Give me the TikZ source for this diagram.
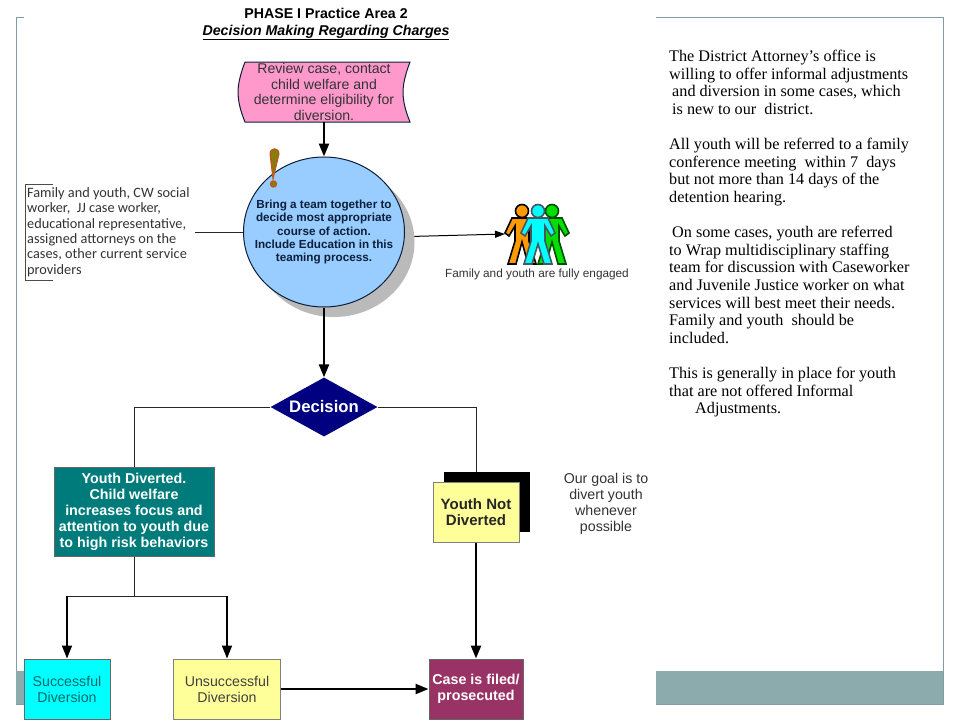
\documentclass[tikz,border=0pt]{standalone}
\usepackage{fontspec}
\setmainfont{Liberation Sans}
\newfontfamily\notesfont{Liberation Serif}
\newfontfamily\listfont{Carlito}
\usetikzlibrary{arrows.meta,shapes.geometric}

\definecolor{framegray}{HTML}{7F9DA3}
\definecolor{bandgray}{HTML}{8CABAD}
\definecolor{reviewpink}{HTML}{FF99CC}
\definecolor{teamblue}{HTML}{99CCFF}
\definecolor{navyfill}{HTML}{000080}
\definecolor{tealfill}{HTML}{007B7B}
\definecolor{paleyellow}{HTML}{FFFF99}
\definecolor{casepurple}{HTML}{993366}
\definecolor{darktext}{HTML}{0B1F3A}
\definecolor{brightcyan}{HTML}{00FFFF}
\definecolor{brightgreen}{HTML}{00E000}
\definecolor{brightorange}{HTML}{FF9A00}
\definecolor{markolive}{HTML}{8A7A10}
\definecolor{markedge}{HTML}{C8501A}

\tikzset{
    flowbox/.style={draw=#1, line width=1pt, inner sep=0pt, align=center},
    flowline/.style={line width=1pt, draw=black!85},
    flowarrow/.style={line width=2.4pt, -{Stealth[length=13pt, width=10pt, inset=0pt]}},
    thinarrow/.style={line width=1pt, -{Stealth[length=10pt, width=7pt, inset=0pt]}},
    boldtext/.style={font=\fontsize{14.3}{16}\selectfont\bfseries},
    plaintext/.style={font=\fontsize{14.2}{16}\selectfont},
    notes/.style={anchor=north west, inner sep=0pt, align=left,
        font=\fontsize{16.2}{17.6}\selectfont\notesfont}
}

\newcommand{\person}[4]{
    \draw[fill=#2, draw=#3, line width=1.6pt, line join=miter]
        (#1-3,218) -- (#1-10,218) -- (#1-17,233) -- (#1-13,236) -- (#1-7,226)
        -- (#1-7,241) -- (#1-14,264) -- (#1-6,264) -- (#1,#4) -- (#1+6,264)
        -- (#1+14,264) -- (#1+7,241) -- (#1+7,226) -- (#1+13,236) -- (#1+17,233)
        -- (#1+10,218) -- (#1+3,218) -- cycle;
    \draw[fill=#2, draw=#3, line width=1.6pt] (#1,211) circle (6.5);
}

\begin{document}
\begin{tikzpicture}[x=1pt, y=-1pt]
    \useasboundingbox (0,0) rectangle (960,720);

    % slide frame and band
    \draw[framegray, line width=1pt] (16,17) rectangle (943,704);
    \fill[bandgray] (16,671) rectangle (943,704);
    \fill[white] (24,0) rectangle (656,720);

    % title
    \node (title) at (326,24) [align=center, inner sep=0pt, font=\fontsize{14.2}{17}\selectfont\bfseries] {PHASE I Practice Area 2\\
        \textit{\underline{Decision Making Regarding Charges}}};

    % review case
    \draw[fill=reviewpink, draw=darktext, line width=1pt] (245,62) -- (410,62)
        .. controls (405,75) and (403,85) .. (403,92)
        .. controls (403,100) and (405,110) .. (410,122)
        -- (245,122)
        .. controls (240,110) and (238,100) .. (238,92)
        .. controls (238,85) and (240,75) .. (245,62) -- cycle;
    \node (review) at (324,92) [minimum width=172pt, minimum height=60pt, inner sep=0pt, align=center,
        text=black!80, font=\fontsize{14.1}{15.8}\selectfont] {Review case, contact\\child welfare and\\determine eligibility for\\diversion.};

    % team circle
    \node (bringshadow) at (334,242) [ellipse, fill=black!27, inner sep=0pt,
        minimum width=161pt, minimum height=150pt] {};
    \node (bring) at (324,232) [ellipse, fill=teamblue, draw=darktext, line width=1pt, inner sep=-14pt,
        minimum width=161pt, minimum height=150pt, align=center, text=darktext,
        font=\fontsize{11.7}{13.3}\selectfont\bfseries]
        {Bring a team together to\\decide most appropriate\\course of action.\\Include Education in this\\teaming process.};
    \draw[fill=markolive, draw=markedge, line width=1pt]
        (270,154) .. controls (270,147) and (279,147) .. (279,154) -- (273,179) -- cycle;
    \fill[markolive, draw=markedge, line width=1pt] (273.5,184) circle (3.2);
    \draw[flowarrow] (review) -- (bring);

    % people on the list
    \draw[black!70, line width=1pt] (53,184) -- (25,184) -- (25,280) -- (53,280);
    \node (teamlist) at (27,232) [anchor=west, align=left, inner sep=0pt, text=black!80,
        font=\fontsize{14.3}{15.3}\selectfont\listfont] {Family and youth, CW social\\worker,\ \ JJ case worker,\\educational representative,\\assigned attorneys on the\\cases, other current service\\providers};
    \coordinate (listend) at (195,232);
    \draw[flowline] (listend) -- (bring);

    % family figures
    \person{552}{brightgreen}{black!70!green}{242}
    \person{522}{brightorange}{black}{242}
    \person{538}{brightcyan}{black!70!cyan}{244}
    \coordinate (people) at (505,234);
    \draw[thinarrow] (bringshadow.4) -- (people);
    \node (engaged) at (537,274) [inner sep=0pt, text=black!80, font=\fontsize{11.8}{13}\selectfont] {Family and youth are fully engaged};

    % decision
    \node (decision) at (324,407) [diamond, aspect=1.81, fill=navyfill, inner sep=-8pt,
        minimum width=107pt, minimum height=59pt, text=white,
        font=\fontsize{16.7}{18}\selectfont\bfseries] {Decision};
    \draw[flowarrow] (bring) -- (decision);

    \node (diverted) at (134,511.5) [flowbox=black!60, fill=tealfill, minimum width=160pt, minimum height=89pt,
        text=white, boldtext] {Youth Diverted.\\Child welfare\\increases focus and\\attention to youth due\\to high risk behaviors};

    \node (notshadow) at (486.5,502) [fill=black, inner sep=0pt, minimum width=86pt, minimum height=60pt] {};
    \draw[flowline] (decision.west) -| (diverted.north);
    \draw[flowline] (decision.east) -| (notshadow.north -| 476,0);
    \node (notdiverted) at (476,512) [flowbox=black!50, fill=paleyellow, minimum width=86pt, minimum height=60pt,
        text=black!85, font=\fontsize{15}{16}\selectfont\bfseries] {Youth Not\\Diverted};

    \node (goal) at (606,504) [align=center, inner sep=0pt, text=black!80, plaintext] {Our goal is to\\divert youth\\whenever\\possible};

    % outcomes
    \node (success) at (67,689) [flowbox=black!60, fill=brightcyan, minimum width=86pt, minimum height=60pt,
        text=tealfill!85!black, plaintext] {Successful\\Diversion};
    \node (unsuccess) at (227,689) [flowbox=black!50, fill=paleyellow, minimum width=107pt, minimum height=60pt,
        text=black!75, plaintext] {Unsuccessful\\Diversion};
    \node (filed) at (476,689) [flowbox=black!60, fill=casepurple, minimum width=94pt, minimum height=60pt,
        text=white, boldtext] {Case is filed/\\prosecuted};

    \coordinate (split) at (134,596);
    \draw[flowline] (diverted) -- (split);
    \draw[flowline] (success.north |- split) -- (unsuccess.north |- split);
    \draw[flowarrow, line width=1.6pt] (success.north |- split) -- (success);
    \draw[flowarrow, line width=1.6pt] (unsuccess.north |- split) -- (unsuccess);
    \draw[flowarrow] (unsuccess) -- (filed);
    \draw[flowarrow] (notdiverted) -- (filed);

    % side notes
    \node (notesa) at (669,50) [notes] {The District Attorney’s office is\\willing to offer informal adjustments\\\hspace*{3pt}and diversion in some cases, which\\\hspace*{3pt}is new to our\ \ district.};
    \node (notesb) at (669,138) [notes] {All youth will be referred to a family\\conference meeting\ \ within 7\ \ days\\but not more than 14 days of the\\detention hearing.};
    \node (notesc) at (669,226) [notes] {\hspace*{3pt}On some cases, youth are referred\\to Wrap multidisciplinary staffing\\team for discussion with Caseworker\\and Juvenile Justice worker on what\\services will best meet their needs.\\Family and youth\ \ should be\\included.};
    \node (notesd) at (669,367) [notes] {This is generally in place for youth\\that are not offered Informal\\\hspace*{26pt}Adjustments.};
\end{tikzpicture}
\end{document}
